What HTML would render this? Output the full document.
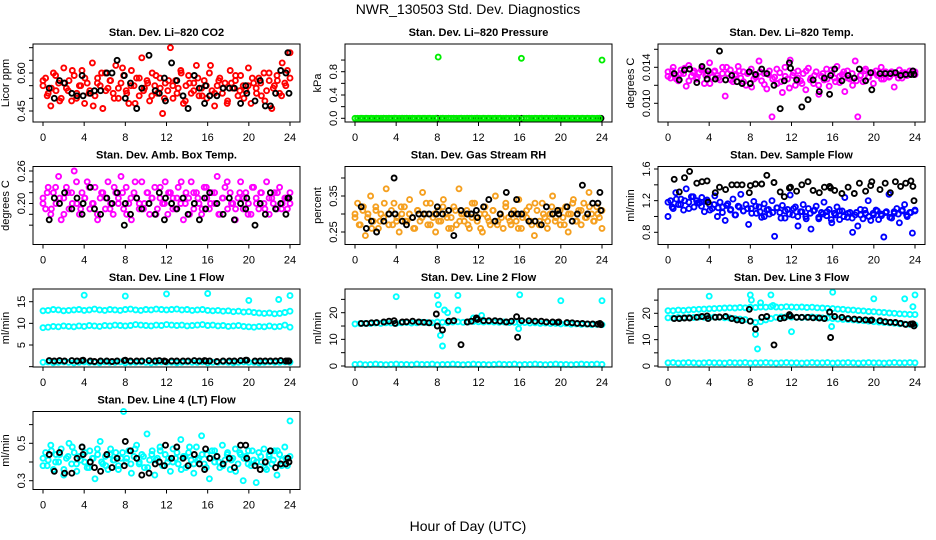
<!DOCTYPE html>
<html><head><meta charset="utf-8">
<style>
html,body{margin:0;padding:0;background:#fff;}
svg{display:block;font-family:"Liberation Sans",Arial,sans-serif;}
.t{font-weight:bold;font-size:11px;}
.ax{font-size:11px;}
</style></head>
<body>
<svg id="chart" width="936" height="540" viewBox="0 0 936 540" xmlns="http://www.w3.org/2000/svg">
<text x="468" y="14" text-anchor="middle" font-size="14">NWR_130503 Std. Dev. Diagnostics</text>
<text x="468" y="531" text-anchor="middle" font-size="14">Hour of Day (UTC)</text>
<g id="plots"></g>
</svg>
<script>
const xTicks = [0,4,8,12,16,20,24];
const blackHours = [0.6,1.1,1.6,2.1,2.8,3.3,3.8,3.9,4.6,5.0,5.6,6.2,6.7,7.2,7.9,8.0,8.5,9.1,9.6,10.3,10.9,11.3,11.8,11.9,12.5,13.0,13.6,14.1,14.7,15.2,15.7,15.8,16.2,16.9,17.5,18.1,18.6,19.2,19.7,19.8,20.6,21.1,21.6,22.1,22.6,23.1,23.6,23.8,23.9];

const co2Vals = [0.55,0.58,0.52,0.47,0.60,0.53,0.56,0.50,0.62,0.54,0.57,0.49,0.59,0.52,0.55,0.61,0.48,0.56,0.53,0.64,0.51,0.58,0.55,0.46,0.60,0.54,0.57,0.52,0.63,0.50,0.56,0.59,0.53,0.48,0.61,0.55,0.58,0.51,0.66,0.54,0.57,0.49,0.60,0.55,0.52,0.58,0.44,0.56,0.53,0.70,0.50,0.57,0.54,0.61,0.48,0.55,0.59,0.52,0.56,0.63,0.51,0.54,0.57,0.50,0.60,0.53,0.47,0.55,0.58,0.52,0.56,0.49,0.61,0.54,0.57,0.51,0.59,0.55,0.53,0.62,0.48,0.56,0.54,0.58,0.51,0.60,0.53,0.57,0.46,0.55,0.59,0.52,0.64,0.56,0.61,0.68];
const co2ValsB = [0.57,0.51,0.54,0.59,0.49,0.56,0.53,0.61,0.50,0.55,0.58,0.52,0.47,0.56,0.60,0.53,0.57,0.50,0.54,0.62,0.52,0.55,0.48,0.58,0.53,0.56,0.51,0.59,0.54,0.50,0.57,0.55,0.52,0.60,0.49,0.56,0.53,0.58,0.51,0.55,0.63,0.52,0.57,0.54,0.48,0.56,0.59,0.53,0.50,0.55,0.58,0.52,0.56,0.49,0.60,0.54,0.57,0.51,0.55,0.58];
const co2Black = [0.54,0.50,0.57,0.56,0.52,0.51,0.59,0.51,0.52,0.53,0.53,0.60,0.60,0.65,0.59,0.50,0.56,0.46,0.54,0.67,0.53,0.52,0.58,0.49,0.64,0.57,0.51,0.46,0.59,0.54,0.48,0.55,0.51,0.51,0.54,0.54,0.54,0.48,0.55,0.52,0.49,0.57,0.47,0.47,0.52,0.61,0.60,0.68,0.52];

const presVals = [0,0,0,0,0,0,0,0,0,0,0,0,0,0,0,0,0,0,0,0,0,0,0,0,0,0,0,0,0,0,0,0,1.05,0,0,0,0,0,0,0,0,0,0,0,0,0,0,0,0,0,0,0,0,0,0,0,0,0,0,0,0,0,0,0,1.03,0,0,0,0,0,0,0,0,0,0,0,0,0,0,0,0,0,0,0,0,0,0,0,0,0,0,0,0,0,0,1.0];
const presBlack = [0,0,0,0,0,0,0,0,0,0,0,0,0,0,0,0,0,0,0,0,0,0,0,0,0,0,0,0,0,0,0,0,0,0,0,0,0,0,0,0,0,0,0,0,0,0,0,0,0];

const tempVals = [0.0135,0.0128,0.0140,0.0131,0.0125,0.0137,0.0133,0.0119,0.0142,0.0130,0.0136,0.0127,0.0134,0.0139,0.0122,0.0133,0.0145,0.0129,0.0136,0.0131,0.0126,0.0140,0.0108,0.0133,0.0137,0.0124,0.0132,0.0141,0.0128,0.0135,0.0120,0.0134,0.0138,0.0127,0.0131,0.0147,0.0125,0.0133,0.0116,0.0136,0.0085,0.0129,0.0122,0.0134,0.0112,0.0140,0.0127,0.0148,0.0131,0.0120,0.0136,0.0125,0.0133,0.0115,0.0139,0.0128,0.0122,0.0135,0.0110,0.0130,0.0126,0.0138,0.0119,0.0133,0.0128,0.0141,0.0123,0.0132,0.0113,0.0136,0.0127,0.0120,0.0147,0.0085,0.0131,0.0124,0.0138,0.0129,0.0134,0.0122,0.0136,0.0131,0.0140,0.0127,0.0133,0.0129,0.0135,0.0118,0.0132,0.0137,0.0128,0.0134,0.0131,0.0136,0.0133,0.0135];
const tempValsB = [0.0130,0.0136,0.0127,0.0133,0.0139,0.0125,0.0134,0.0129,0.0137,0.0131,0.0122,0.0135,0.0128,0.0133,0.0140,0.0126,0.0131,0.0136,0.0124,0.0133,0.0118,0.0129,0.0135,0.0121,0.0132,0.0127,0.0138,0.0124,0.0130,0.0117,0.0134,0.0128,0.0122,0.0136,0.0126,0.0131,0.0120,0.0133,0.0127,0.0137,0.0124,0.0130,0.0135,0.0128,0.0133,0.0125,0.0131,0.0136,0.0129,0.0134,0.0131,0.0127,0.0135,0.0130,0.0133,0.0128,0.0134,0.0131,0.0133,0.0132];
const tempBlack = [0.0133,0.0126,0.0137,0.0138,0.0123,0.0141,0.0127,0.0136,0.0127,0.0158,0.0126,0.0131,0.0124,0.0122,0.0135,0.0122,0.0132,0.0138,0.0133,0.0120,0.0094,0.0125,0.0145,0.0139,0.0126,0.0096,0.0104,0.0126,0.0113,0.0128,0.0110,0.0131,0.0138,0.0125,0.0131,0.0128,0.0138,0.0125,0.0134,0.0115,0.0133,0.0133,0.0133,0.0134,0.0131,0.0132,0.0132,0.0136,0.0132];

const boxVals = [0.21,0.19,0.23,0.18,0.22,0.20,0.25,0.17,0.21,0.23,0.19,0.22,0.26,0.20,0.18,0.22,0.21,0.24,0.19,0.20,0.23,0.17,0.21,0.22,0.19,0.24,0.20,0.18,0.22,0.21,0.25,0.19,0.23,0.20,0.17,0.22,0.21,0.19,0.24,0.20,0.22,0.18,0.21,0.23,0.19,0.21,0.20,0.24,0.18,0.22,0.21,0.19,0.23,0.20,0.17,0.22,0.21,0.24,0.19,0.22,0.20,0.18,0.23,0.21,0.19,0.22,0.20,0.25,0.18,0.21,0.23,0.19,0.22,0.20,0.17,0.21,0.24,0.19,0.22,0.20,0.18,0.23,0.21,0.19,0.22,0.20,0.24,0.18,0.21,0.22,0.19,0.23,0.20,0.21,0.19,0.22];
const boxValsB = [0.20,0.22,0.19,0.23,0.21,0.18,0.22,0.20,0.24,0.19,0.21,0.23,0.20,0.18,0.22,0.21,0.19,0.23,0.20,0.22,0.18,0.21,0.24,0.20,0.19,0.22,0.21,0.18,0.23,0.20,0.22,0.19,0.21,0.24,0.20,0.18,0.22,0.21,0.19,0.23,0.20,0.22,0.18,0.21,0.24,0.20,0.19,0.22,0.21,0.18,0.23,0.20,0.22,0.19,0.21,0.20,0.22,0.19,0.21,0.20];
const boxBlack = [0.17,0.21,0.20,0.22,0.19,0.21,0.18,0.20,0.23,0.19,0.18,0.21,0.20,0.22,0.16,0.20,0.18,0.21,0.19,0.20,0.18,0.22,0.17,0.21,0.20,0.19,0.21,0.18,0.20,0.17,0.21,0.19,0.22,0.20,0.18,0.21,0.17,0.20,0.19,0.21,0.16,0.20,0.18,0.22,0.19,0.20,0.18,0.21,0.21];

const rhVals = [0.29,0.33,0.27,0.31,0.24,0.30,0.35,0.28,0.32,0.26,0.30,0.29,0.37,0.27,0.31,0.33,0.28,0.25,0.30,0.32,0.28,0.34,0.29,0.26,0.31,0.28,0.36,0.30,0.27,0.33,0.29,0.25,0.31,0.28,0.34,0.30,0.26,0.29,0.32,0.27,0.37,0.30,0.28,0.31,0.26,0.29,0.33,0.28,0.30,0.25,0.32,0.29,0.27,0.31,0.35,0.28,0.30,0.26,0.33,0.29,0.27,0.31,0.28,0.34,0.26,0.30,0.29,0.32,0.27,0.24,0.31,0.28,0.33,0.29,0.26,0.30,0.35,0.28,0.31,0.27,0.29,0.32,0.25,0.30,0.34,0.28,0.31,0.27,0.33,0.29,0.36,0.30,0.28,0.32,0.29,0.26];
const rhValsB = [0.30,0.27,0.32,0.29,0.26,0.31,0.28,0.33,0.30,0.27,0.29,0.32,0.28,0.30,0.26,0.31,0.29,0.33,0.27,0.30,0.28,0.32,0.29,0.26,0.31,0.28,0.30,0.27,0.33,0.29,0.26,0.30,0.28,0.31,0.27,0.29,0.32,0.28,0.30,0.26,0.29,0.31,0.28,0.33,0.27,0.30,0.28,0.32,0.29,0.31,0.27,0.30,0.33,0.28,0.31,0.29,0.32,0.28,0.30,0.31];
const rhBlack = [0.32,0.26,0.28,0.25,0.28,0.30,0.40,0.30,0.28,0.27,0.29,0.30,0.30,0.30,0.30,0.32,0.30,0.31,0.24,0.31,0.30,0.30,0.31,0.29,0.32,0.34,0.28,0.30,0.36,0.30,0.34,0.30,0.30,0.28,0.28,0.27,0.32,0.30,0.31,0.30,0.32,0.28,0.30,0.38,0.30,0.33,0.33,0.36,0.31];

const sampleVals = [1.00,1.20,1.10,1.30,1.15,1.22,1.08,1.35,1.18,1.25,1.12,1.20,1.17,1.24,1.06,1.21,1.15,1.10,1.26,1.00,1.18,1.12,0.95,1.16,1.08,1.22,1.02,1.13,1.28,1.07,1.15,0.90,1.10,1.19,1.04,1.12,0.99,1.16,1.08,1.03,1.20,0.75,1.11,1.05,1.14,0.98,1.09,1.27,1.02,1.12,0.88,1.06,1.15,1.00,1.10,0.84,1.07,1.13,0.97,1.05,1.18,1.01,1.09,0.92,1.04,1.12,0.96,1.07,1.24,0.99,1.05,0.80,1.02,0.88,1.09,0.97,1.04,1.20,0.95,1.02,1.08,0.96,1.03,0.74,1.06,1.28,0.98,1.04,1.10,0.92,1.07,1.15,1.00,1.05,0.79,1.08];
const sampleValsB = [1.18,1.12,1.22,1.15,1.20,1.10,1.25,1.17,1.13,1.19,1.08,1.15,1.11,1.05,1.14,1.09,1.02,1.12,1.07,1.10,1.04,1.13,1.06,1.00,1.09,1.05,1.11,0.98,1.07,1.03,1.10,1.00,1.06,0.97,1.04,1.08,0.99,1.03,1.06,0.96,1.02,1.07,1.00,1.04,0.98,1.05,1.02,1.08,1.00,1.04,1.07,1.01,1.05,0.99,1.06,1.03,1.08,1.02,1.05,1.07];
const sampleBlack = [1.47,1.31,1.49,1.57,1.42,1.44,1.45,1.18,1.30,1.37,1.34,1.40,1.40,1.40,1.30,1.39,1.41,1.41,1.52,1.43,1.31,1.25,1.36,1.37,1.32,1.40,1.44,1.33,1.30,1.37,1.38,1.36,1.33,1.29,1.37,1.29,1.42,1.32,1.39,1.44,1.34,1.42,1.30,1.44,1.38,1.42,1.45,1.38,1.20];

const l1Hi = [12.9,13.0,13.2,13.1,12.9,13.0,13.1,13.2,13.0,13.1,13.3,13.1,13.0,13.2,13.1,13.0,13.2,13.3,13.1,13.0,13.2,13.1,13.3,13.2,13.1,13.2,13.3,13.1,13.2,13.0,13.1,13.2,13.0,12.9,13.0,12.8,12.9,12.7,12.8,12.6,12.7,12.5,12.4,12.3,12.4,12.2,12.3,12.5,12.8];
const l1Mid = [9.0,9.1,9.3,9.2,9.4,9.3,9.2,9.4,9.3,9.5,9.4,9.3,9.5,9.4,9.6,9.5,9.4,9.5,9.7,9.6,9.5,9.4,9.6,9.5,9.7,9.6,9.5,9.6,9.4,9.5,9.6,9.7,9.5,9.6,9.4,9.5,9.3,9.4,9.5,9.3,9.2,9.1,9.3,9.2,9.4,9.2,9.3,9.6,9.1];
const l1Low = [1.0,1.1,0.9,1.0,1.1,1.0,0.9,1.0,1.1,1.0,1.0,0.9,1.1,1.0,1.0,1.1,0.9,1.0,1.0,1.1,1.0,0.9,1.0,1.1,1.0,1.0,0.9,1.0,1.1,1.0,1.0,1.1,0.9,1.0,1.0,1.1,1.0,0.9,1.0,1.1,1.0,1.0,0.9,1.0,1.1,1.0,1.0,1.1,1.0];
const l1OutHours = [4,8,12,16,20,22.9,24];
const l1OutVals = [16.5,16.3,16.8,16.9,15.3,15.5,16.4];
const l1Black = [1.4,1.3,1.4,1.3,1.4,1.3,1.4,1.5,1.3,1.2,1.3,1.3,1.2,1.3,1.4,1.5,1.3,1.3,1.3,1.4,1.3,1.4,1.3,1.2,1.3,1.3,1.3,1.3,1.4,1.3,1.4,1.3,1.3,1.2,1.3,1.3,1.3,1.4,1.5,1.5,1.3,1.3,1.3,1.3,1.3,1.4,1.3,1.3,1.3];

const l2Band = [15.8,15.9,16.0,15.9,16.1,16.0,16.2,16.1,16.0,16.2,16.3,16.1,16.2,16.4,16.3,16.2,16.5,16.4,16.3,16.5,16.6,16.4,16.5,16.7,16.6,16.5,16.6,16.5,16.4,16.5,16.3,16.4,16.2,16.3,16.1,16.2,16.0,16.1,15.9,16.0,15.8,15.9,15.7,15.8,15.6,15.7,15.5,15.6,15.5];
const l2Low = [0.6,0.7,0.5,0.6,0.7,0.6,0.5,0.6,0.7,0.6,0.6,0.5,0.7,0.6,0.6,0.7,0.5,0.6,0.6,0.7,0.6,0.5,0.6,0.7,0.6,0.6,0.5,0.6,0.7,0.6,0.6,0.7,0.5,0.6,0.6,0.7,0.6,0.5,0.6,0.7,0.6,0.6,0.5,0.6,0.7,0.6,0.6,0.7,0.6];
const l2OutHours = [4,8,8.1,8.3,8.5,8.7,9,10,10,11.5,12.3,15.9,16,20,24];
const l2OutVals = [26,26.5,23,11.5,7.5,21,20,26.5,21,18,19,14,26.7,24.5,24.5];
const l2Black = [16.0,16.0,16.2,16.3,16.5,16.8,17.0,16.0,16.5,16.6,16.8,16.5,16.4,16.2,19.5,15.0,13.5,16.8,17.0,8.0,16.5,16.8,18.0,17.5,17.0,17.0,17.0,16.8,16.5,16.8,18.5,10.8,17.0,17.0,16.8,16.8,16.5,16.5,16.4,16.5,16.3,16.2,16.0,16.0,15.8,15.8,15.7,16.0,15.5];

const l3Hi = [21.0,21.0,21.2,21.1,21.3,21.4,21.5,21.6,21.7,21.8,21.9,22.0,22.1,22.0,22.2,22.1,22.3,22.2,22.4,22.3,22.5,22.4,22.3,22.5,22.4,22.3,22.4,22.2,22.3,22.1,22.0,21.9,21.8,21.6,21.5,21.3,21.2,21.0,20.9,20.7,20.6,20.4,20.3,20.1,20.0,19.8,19.7,19.6,19.5];
const l3Mid = [18.3,18.2,18.4,18.3,18.5,18.4,18.6,18.5,18.4,18.6,18.5,18.3,18.2,18.0,17.8,17.6,17.0,16.5,16.8,17.5,18.0,18.5,18.6,18.7,18.6,18.5,18.4,18.5,18.6,18.4,18.3,18.2,18.0,17.8,17.7,17.6,17.5,17.3,17.2,17.0,16.8,16.7,16.5,16.4,16.2,16.0,15.9,15.8,15.6];
const l3Low = [1.2,1.3,1.1,1.2,1.3,1.2,1.1,1.2,1.3,1.2,1.2,1.1,1.3,1.2,1.2,1.3,1.1,1.2,1.2,1.3,1.2,1.1,1.2,1.3,1.2,1.2,1.1,1.2,1.3,1.2,1.2,1.3,1.1,1.2,1.2,1.3,1.2,1.1,1.2,1.3,1.2,1.2,1.1,1.2,1.3,1.2,1.2,1.3,1.2];
const l3OutHours = [4,8,8.1,8.5,8.7,9,10,10.2,12,15.9,16,20,23,23.8,24];
const l3OutVals = [26.5,27,25,12,6.5,24,27,23,13,15,28,25.5,25.5,22.5,27];
const l3Black = [18.0,18.0,18.2,18.2,18.5,18.8,19.0,18.0,18.5,18.6,18.8,18.0,17.5,17.2,21.5,17.0,14.0,18.5,18.8,8.0,18.0,18.3,19.5,19.0,18.5,18.5,18.5,18.3,18.2,18.0,20.5,10.8,18.8,18.5,18.0,17.8,17.6,17.5,17.3,17.5,17.2,16.8,16.6,16.5,16.2,15.8,15.9,16.0,15.2];

const l4Vals = [0.38,0.45,0.41,0.49,0.36,0.44,0.40,0.47,0.33,0.42,0.50,0.39,0.45,0.35,0.43,0.48,0.40,0.37,0.46,0.42,0.31,0.44,0.51,0.39,0.43,0.36,0.47,0.41,0.45,0.38,0.42,0.67,0.40,0.46,0.34,0.43,0.49,0.39,0.44,0.37,0.55,0.41,0.46,0.33,0.42,0.48,0.38,0.44,0.40,0.35,0.47,0.42,0.39,0.52,0.43,0.37,0.45,0.41,0.34,0.48,0.42,0.54,0.39,0.44,0.31,0.46,0.40,0.43,0.37,0.49,0.41,0.45,0.36,0.42,0.47,0.39,0.44,0.30,0.43,0.46,0.38,0.41,0.29,0.45,0.40,0.47,0.36,0.43,0.39,0.46,0.33,0.44,0.41,0.48,0.38,0.62];
const l4ValsB = [0.42,0.38,0.46,0.40,0.44,0.36,0.43,0.48,0.39,0.41,0.45,0.37,0.42,0.47,0.40,0.38,0.44,0.41,0.36,0.45,0.42,0.39,0.47,0.40,0.43,0.37,0.44,0.41,0.46,0.38,0.42,0.40,0.45,0.36,0.43,0.48,0.39,0.41,0.44,0.37,0.42,0.46,0.40,0.38,0.44,0.41,0.35,0.45,0.42,0.39,0.46,0.40,0.43,0.37,0.44,0.41,0.46,0.38,0.42,0.43];
const l4Black = [0.44,0.35,0.45,0.34,0.34,0.42,0.48,0.44,0.40,0.37,0.35,0.44,0.37,0.42,0.38,0.51,0.46,0.42,0.33,0.34,0.39,0.40,0.38,0.49,0.42,0.48,0.42,0.38,0.44,0.39,0.36,0.47,0.42,0.43,0.39,0.42,0.37,0.49,0.49,0.42,0.38,0.36,0.40,0.46,0.37,0.39,0.39,0.42,0.40];

const colLeft = [33,345,658];
const rowTop = [44,166.5,289,411.5];
const boxW = 267, boxH = 78;
const NS = 'http://www.w3.org/2000/svg';
const root = document.getElementById('plots');

function el(tag, attrs, parent){
  const e = document.createElementNS(NS, tag);
  for (const k in attrs) e.setAttribute(k, attrs[k]);
  parent.appendChild(e);
  return e;
}
function idxHours(arr){ return arr.map((v,i)=> i*24/(arr.length-1)); }

const panels = [
 {c:0,r:0,title:'Stan. Dev. Li-820 CO2',ylab:'Licor ppm',y0:0.45,p0:67,y1:0.60,p1:29,ticks:[0.45,0.50,0.55,0.60,0.65,0.70],labels:[0.45,0.60],fmt:2,
  series:[[null,co2Vals,'#ff0000'],[null,co2ValsB,'#ff0000'],[blackHours,co2Black,'#000']]},
 {c:1,r:0,title:'Stan. Dev. Li-820 Pressure',ylab:'kPa',y0:0,p0:74.3,y1:0.8,p1:27.7,ticks:[0,0.2,0.4,0.6,0.8,1.0],labels:[0,0.4,0.8],fmt:1,
  series:[[blackHours,presBlack,'#000'],[null,presVals,'#00ee00']]},
 {c:2,r:0,title:'Stan. Dev. Li-820 Temp.',ylab:'degrees C',y0:0.010,p0:59.3,y1:0.014,p1:23.3,ticks:[0.010,0.012,0.014,0.016],labels:[0.010,0.014],fmt:3,
  series:[[null,tempVals,'#ff00ff'],[null,tempValsB,'#ff00ff'],[blackHours,tempBlack,'#000']]},
 {c:0,r:1,title:'Stan. Dev. Amb. Box Temp.',ylab:'degrees C',y0:0.20,p0:37,y1:0.26,p1:4.5,ticks:[0.16,0.18,0.20,0.22,0.24,0.26],labels:[0.20,0.26],fmt:2,
  series:[[null,boxVals,'#ff00ff'],[null,boxValsB,'#ff00ff'],[blackHours,boxBlack,'#000']]},
 {c:1,r:1,title:'Stan. Dev. Gas Stream RH',ylab:'percent',y0:0.25,p0:65.5,y1:0.35,p1:29.5,ticks:[0.25,0.30,0.35,0.40],labels:[0.25,0.35],fmt:2,
  series:[[null,rhVals,'#f5a020'],[null,rhValsB,'#f5a020'],[blackHours,rhBlack,'#000']]},
 {c:2,r:1,title:'Stan. Dev. Sample Flow',ylab:'ml/min',y0:0.8,p0:65.8,y1:1.6,p1:2.5,ticks:[0.8,1.0,1.2,1.4,1.6],labels:[0.8,1.2,1.6],fmt:1,
  series:[[null,sampleVals,'#0000ff'],[null,sampleValsB,'#0000ff'],[blackHours,sampleBlack,'#000']]},
 {c:0,r:2,title:'Stan. Dev. Line 1 Flow',ylab:'ml/min',y0:5,p0:56,y1:15,p1:12.7,ticks:[0,5,10,15],labels:[5,10,15],fmt:0,
  series:[[null,l1Hi,'#00ffff'],[null,l1Mid,'#00ffff'],[null,l1Low,'#00ffff'],[l1OutHours,l1OutVals,'#00ffff'],[blackHours,l1Black,'#000']]},
 {c:1,r:2,title:'Stan. Dev. Line 2 Flow',ylab:'ml/min',y0:0,p0:77,y1:20,p1:23.7,ticks:[0,5,10,15,20,25],labels:[0,10,20],fmt:0,
  series:[[null,l2Band,'#00ffff'],[null,l2Low,'#00ffff'],[l2OutHours,l2OutVals,'#00ffff'],[blackHours,l2Black,'#000']]},
 {c:2,r:2,title:'Stan. Dev. Line 3 Flow',ylab:'ml/min',y0:0,p0:77,y1:20,p1:24.3,ticks:[0,5,10,15,20,25],labels:[0,10,20],fmt:0,
  series:[[null,l3Hi,'#00ffff'],[null,l3Mid,'#00ffff'],[null,l3Low,'#00ffff'],[l3OutHours,l3OutVals,'#00ffff'],[blackHours,l3Black,'#000']]},
 {c:0,r:3,title:'Stan. Dev. Line 4 (LT) Flow',ylab:'ml/min',y0:0.3,p0:69.2,y1:0.5,p1:31.8,ticks:[0.3,0.4,0.5,0.6,0.7],labels:[0.3,0.5],fmt:1,
  series:[[null,l4Vals,'#00ffff'],[null,l4ValsB,'#00ffff'],[blackHours,l4Black,'#000']]}
];

panels.forEach((p,pi)=>{
  const L = colLeft[p.c], T = rowTop[p.r];
  const xs = h => L + 10 + h*247/24;
  const ys = v => T + p.p0 + (v - p.y0)*(p.p1 - p.p0)/(p.y1 - p.y0);
  const g = el('g', {}, root);
  
  
  const t = el('text', {x: L + boxW/2, y: T - 8, 'text-anchor':'middle', class:'t'}, g);
  t.textContent = p.title.replace(/-/g,'\u2013');
  
  
  const pts = el('g', {fill:'none','stroke-width':1.9}, g);
  
  
  p.series.forEach(s=>{
    const vals = s[1];
    const hrs = s[0] || idxHours(vals);
    const n = Math.min(hrs.length, vals.length);
    for (let i=0;i<n;i++){
      const cy = ys(vals[i]);
      const c = el('circle', {cx: xs(hrs[i]).toFixed(1), cy: cy.toFixed(1), r: 2.5, stroke: s[2]}, pts);
      
      
    }
  });
  const b = el('rect', {x:L, y:T, width:boxW, height:boxH, fill:'none', stroke:'#000', 'stroke-width':1}, g);
  
  
  const xa = el('g', {}, g);
  
  
  const by = T + boxH;
  el('line', {x1:xs(0), x2:xs(24), y1:by, y2:by, stroke:'#000'}, xa);
  xTicks.forEach(v=>{
    el('line', {x1:xs(v), x2:xs(v), y1:by, y2:by+4, stroke:'#000'}, xa);
    const tx = el('text', {x:xs(v), y:by+19, 'text-anchor':'middle', class:'ax'}, xa);
    tx.textContent = v;
    
    
  });
  const ya = el('g', {}, g);
  
  
  const tk = p.ticks.filter(v => ys(v) >= T-1 && ys(v) <= T+boxH+1);
  el('line', {x1:L, x2:L, y1:ys(tk[0]), y2:ys(tk[tk.length-1]), stroke:'#000'}, ya);
  tk.forEach(v=>{
    el('line', {x1:L-4, x2:L, y1:ys(v), y2:ys(v), stroke:'#000'}, ya);
  });
  p.labels.forEach(v=>{
    const yy = ys(v);
    const ty = el('text', {x:L-8, y:yy, 'text-anchor':'middle', class:'ax', transform:`rotate(-90 ${L-8} ${yy})`}, ya);
    ty.textContent = v.toFixed(p.fmt);
    
    
  });
  const ymid = T + boxH/2;
  const yl = el('text', {x:L-24, y:ymid, 'text-anchor':'middle', class:'ax', transform:`rotate(-90 ${L-24} ${ymid})`}, ya);
  yl.textContent = p.ylab;
  
  
});
</script>
</body></html>
